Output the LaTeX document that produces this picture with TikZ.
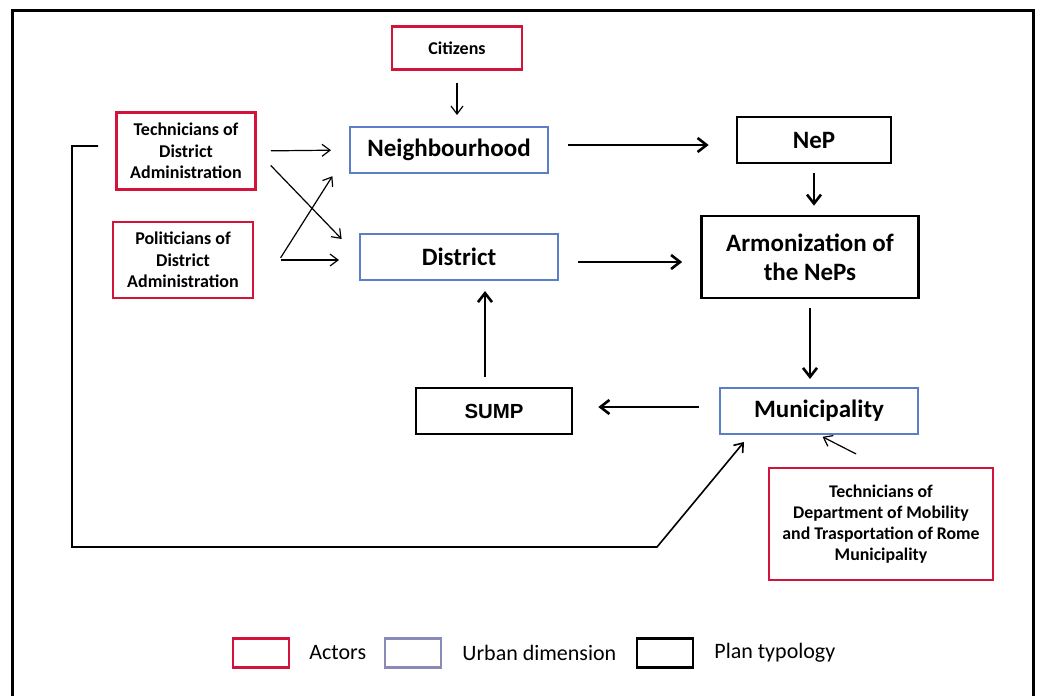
\documentclass[tikz,border=0pt]{standalone}
\usepackage{fontspec}
\setmainfont{Carlito}
\newfontfamily\sumpfont{Liberation Sans}
\usetikzlibrary{positioning,arrows.meta}
\definecolor{actorred}{HTML}{D2143C}
\definecolor{urbanblue}{HTML}{5A7EC8}
\definecolor{legendblue}{HTML}{8A8AB8}
\tikzset{
  actor/.style={rectangle,draw=actorred,line width=2.6pt,align=center,inner sep=0pt,
    font=\bfseries\fontsize{18}{21.5}\selectfont},
  urban/.style={rectangle,draw=urbanblue,line width=2pt,align=center,inner sep=0pt,
    minimum width=198pt,minimum height=46pt,font=\bfseries\fontsize{25}{29}\selectfont},
  plan/.style={rectangle,draw=black,line width=2.6pt,align=center,inner sep=0pt,
    font=\bfseries\fontsize{25}{29}\selectfont},
  thinarr/.style={-{Straight Barb[length=8pt,width=12pt]},line width=1.2pt},
  thickarr/.style={-{Straight Barb[length=9pt,width=14pt]},line width=2.6pt},
  legbox/.style={rectangle,line width=2.4pt,minimum width=56pt,minimum height=29pt,inner sep=0pt},
  legtext/.style={inner sep=0pt,font=\fontsize{22}{26}\selectfont},
}
\begin{document}
\begin{tikzpicture}[x=1pt,y=-1pt]
  \useasboundingbox (0,0) rectangle (1039,696);
  \draw[line width=3pt] (12,696) -- (12,10) -- (1033,10) -- (1033,696);
  % actors
  \node[actor,minimum width=130pt,minimum height=43pt] (cit) at (457,48) {Citizens};
  \node[actor,minimum width=139pt,minimum height=77pt] (tda) at (186,151) {Technicians of\\District\\Administration};
  \node[actor,minimum width=140pt,minimum height=76pt] (pol) at (183,260) {Politicians of\\District\\Administration};
  \node[actor,minimum width=224pt,minimum height=112pt,font=\bfseries\fontsize{17.8}{21}\selectfont] (tdm) at (881,524)
    {Technicians of\\Department of Mobility\\and Trasportation of Rome\\Municipality};
  % urban dimensions
  \node[urban] (nbh) at (449,150) {Neighbourhood};
  \node[urban] (dis) at (459,257) {District};
  \node[urban] (mun) at (819,411) {Municipality};
  % plan typologies
  \node[plan,minimum width=154pt,minimum height=46pt] (nep) at (814,140) {NeP};
  \node[plan,minimum width=217pt,minimum height=82pt] (arm) at (810,257) {Armonization of\\the NePs};
  \node[plan,minimum width=156pt,minimum height=46pt,font=\sumpfont\bfseries\fontsize{20.4}{24}\selectfont] (sump) at (494,411) {SUMP};
  % thin arrows from actors
  \draw[thinarr,shorten <=12pt,shorten >=11pt] (cit.south) -- (cit.south |- nbh.north);
  \draw[thinarr,shorten <=14pt,shorten >=18pt] (tda.east) -- (nbh.west);
  \draw[thinarr,shorten <=20pt,shorten >=25pt] (tda.east) -- (dis.west);
  \draw[thinarr,shorten <=49pt,shorten >=31pt] (pol.south east) -- (nbh.west);
  \draw[thinarr,shorten <=27pt,shorten >=20pt] (pol.east) -- (pol.east -| dis.west);
  \draw[thinarr,shorten <=28pt,shorten >=4pt] (tdm.north) -- (mun.south);
  % thick arrows between plans
  \draw[thickarr,shorten <=19pt,shorten >=27pt] ([yshift=5pt]nbh.east) -- ([yshift=-5pt]nep.west);
  \draw[thickarr,shorten <=9pt,shorten >=9pt] (nep.south) -- (nep.south |- arm.north);
  \draw[thickarr,shorten <=19pt,shorten >=18pt] ([yshift=-5pt]dis.east) -- ([yshift=-5pt]arm.west);
  \draw[thickarr,shorten <=9pt,shorten >=8pt] (arm.south) -- (arm.south |- mun.north);
  \draw[thickarr,shorten <=20pt,shorten >=25pt] ([yshift=4pt]mun.west) -- ([yshift=4pt]sump.east);
  \draw[thickarr,shorten <=10pt,shorten >=10pt] ([xshift=-9pt]sump.north) -- ([xshift=-9pt]sump.north |- dis.south);
  % loop back to the municipality
  \coordinate (loopa) at (72,146);
  \coordinate (loopb) at (72,547);
  \coordinate (loopc) at (657,547);
  \draw[thinarr,line width=1.6pt] ([xshift=-17pt,yshift=5pt]tda.west) -- (loopa) -- (loopb) -- (loopc) -- ([xshift=25pt,yshift=-7pt]mun.south west);
  % legend
  \node[legbox,draw=actorred] (lgA) at (261,653) {};
  \node[legtext,right=19pt of lgA] (lgAt) {Actors};
  \node[legbox,draw=legendblue] (lgU) at (413,653) {};
  \node[legtext,right=20pt of lgU] (lgUt) {Urban dimension};
  \node[legbox,draw=black] (lgP) at (665,653) {};
  \node[legtext,right=20pt of lgP] (lgPt) {Plan typology};
\end{tikzpicture}
\end{document}
